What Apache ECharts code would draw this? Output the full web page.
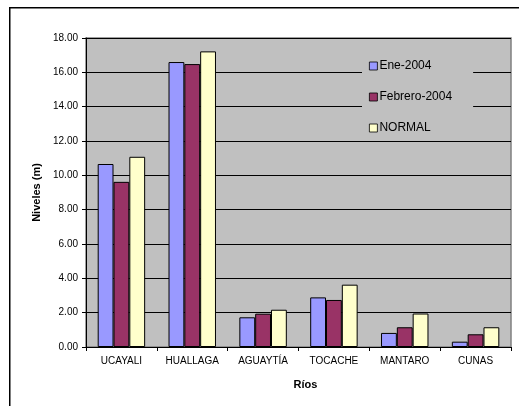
<!DOCTYPE html>
<html>
<head>
<meta charset="utf-8">
<script src="https://cdn.jsdelivr.net/npm/echarts@6/dist/echarts.min.js"></script>
<style>html,body{margin:0;padding:0;background:#fff;}#c{width:519px;height:406px;}</style>
</head>
<body>
<div id="c"></div>
<script>
const categories = ['UCAYALI', 'HUALLAGA', 'AGUAYTÍA', 'TOCACHE', 'MANTARO', 'CUNAS'];
const ene2004 = [10.66, 16.60, 1.73, 2.89, 0.82, 0.31];
const feb2004 = [9.62, 16.48, 1.94, 2.74, 1.15, 0.74];
const normal = [11.08, 17.22, 2.17, 3.63, 1.95, 1.15];
const seriesNames = ['Ene-2004', 'Febrero-2004', 'NORMAL'];
const yTicks = { min: 0, max: 18, interval: 2 };

const colors = ['#9999FF', '#993366', '#FFFFCC'];
const font = 'Liberation Sans, Arial, sans-serif';
const chart = echarts.init(document.getElementById('c'));
const data = [ene2004, feb2004, normal];
chart.setOption({
  animation: false,
  graphic: [{
    type: 'rect', left: 9, top: 7, z: -10,
    shape: { width: 620, height: 520 },
    style: { fill: '#fff', stroke: '#000', lineWidth: 1.5 }
  }],
  grid: {
    left: 86, right: 8, top: 38, bottom: 59,
    show: true, backgroundColor: '#C0C0C0', borderColor: '#808080', borderWidth: 1.5
  },
  legend: {
    orient: 'vertical', left: 362, top: 55,
    data: seriesNames,
    itemWidth: 8, itemHeight: 8, itemGap: 17,
    backgroundColor: '#C0C0C0',
    padding: [4, 21, 4, 7],
    icon: 'rect',
    itemStyle: { borderColor: '#000', borderWidth: 0.8 },
    textStyle: { fontFamily: font, fontSize: 12, color: '#000', lineHeight: 14, padding: [0, 0, 0, -3] }
  },
  xAxis: {
    type: 'category', data: categories,
    name: 'Ríos', nameLocation: 'middle', nameGap: 32,
    nameTextStyle: { fontFamily: font, fontSize: 11, fontWeight: 'bold', color: '#000', padding: [0, 0, 0, 14] },
    axisLine: { lineStyle: { color: '#000', width: 1 } },
    axisTick: { show: true, length: 4, lineStyle: { color: '#000' } },
    axisLabel: { fontFamily: font, fontSize: 10, color: '#000', margin: 9 }
  },
  yAxis: {
    type: 'value', min: yTicks.min, max: yTicks.max, interval: yTicks.interval,
    name: 'Niveles (m)', nameLocation: 'middle', nameGap: 44, nameRotate: 90,
    nameTextStyle: { fontFamily: font, fontSize: 11, fontWeight: 'bold', color: '#000' },
    axisLine: { show: true, lineStyle: { color: '#000', width: 1 } },
    axisTick: { show: true, length: 4, lineStyle: { color: '#000' } },
    axisLabel: { fontFamily: font, fontSize: 10, color: '#000', margin: 8, formatter: v => v.toFixed(2) },
    splitLine: { show: true, lineStyle: { color: '#000', width: 1 } }
  },
  series: seriesNames.map((n, i) => ({
    name: n, type: 'bar', data: data[i],
    barGap: '0%', barCategoryGap: '33%',
    itemStyle: { color: colors[i], borderColor: '#000', borderWidth: 1 }
  }))
});
</script>
</body>
</html>
